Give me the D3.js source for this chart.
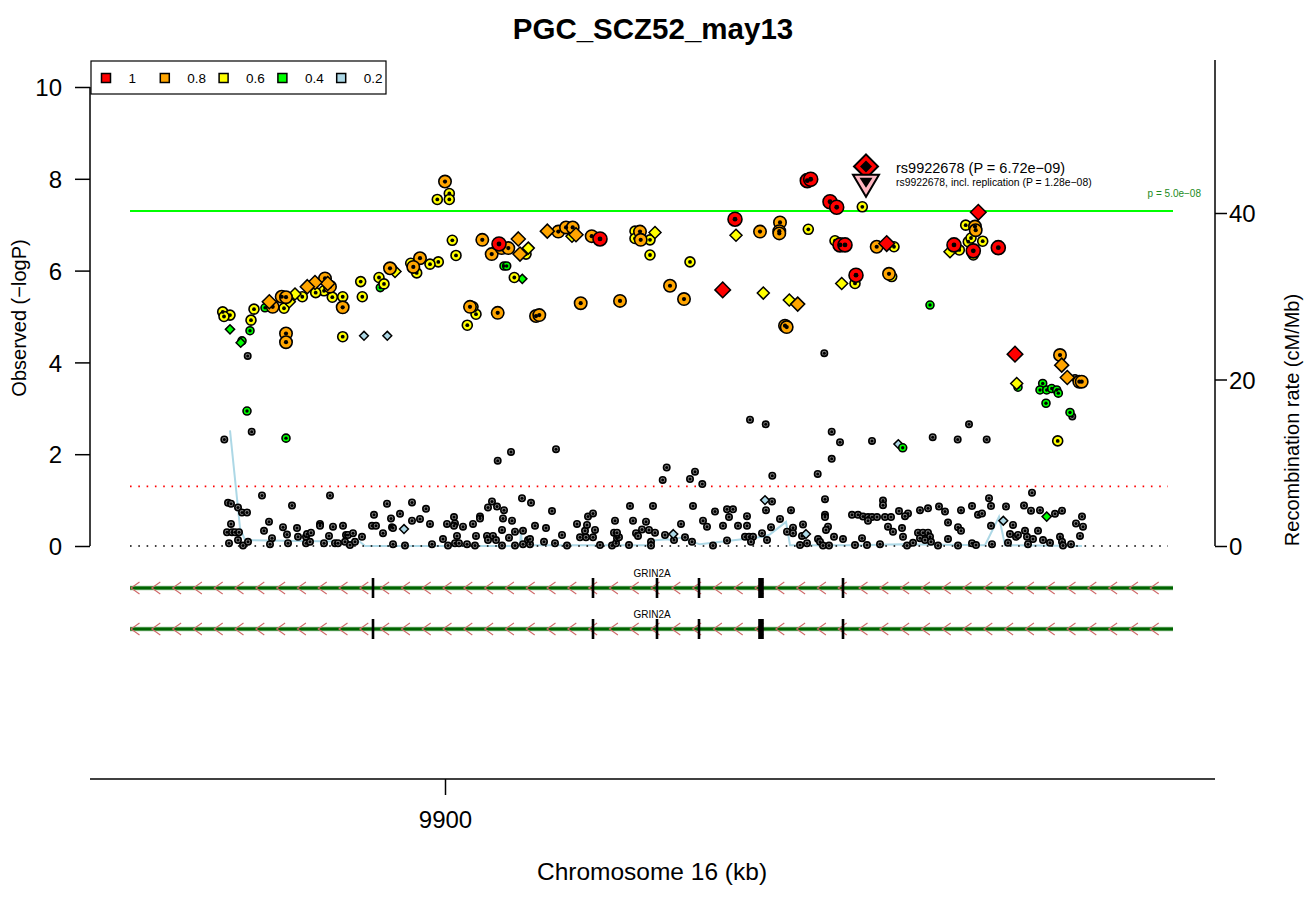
<!DOCTYPE html>
<html><head><meta charset="utf-8">
<script src="https://cdn.jsdelivr.net/npm/d3@7"></script>
<style>body{margin:0;background:#fff}</style>
</head><body>
<svg id="c" width="1304" height="900"></svg>
<script>
// ---------------- DATA ----------------
const title = "PGC_SCZ52_may13";
const xTicks = [9900];
const yTicks = [0, 2, 4, 6, 8, 10];
const recTicks = [0, 20, 40];
const ldLabels = ["1", "0.8", "0.6", "0.4", "0.2"];
const ldColors = ["#FF0000", "#FFA500", "#FFFF00", "#00FF00", "#ADD8E6"];
const sigLine = 7.30;   // p = 5e-08
const nomLine = 1.30;   // p = 0.05

// lead SNP
const leadName = "rs9922678";
const leadPos = 10321;
const leadLogP = 8.27;
const replLogP = 7.87;

// [position kb, -log10 P]  r2 >= 0.8 (red)
const ld1Circ = [[9954,6.58],[10262.3,7.96],[10265.7,7.99],[10285,7.50],[10291.7,7.38],[10190,7.12],[10055,6.69],[10295,6.56],[10300,6.56],[10311,5.90],[10409,6.56],[10428.3,6.43],[10453.3,6.50]];
const ld1Diam = [[10341.7,6.59],[10177.7,5.58],[10433.3,7.27],[10470,4.18]];
// orange
const ld08Circ = [[9900,7.94],[9937.3,6.67],[9946.7,6.36],[9956.7,6.49],[9963.3,6.49],[9875,6.27],[9868.3,6.08],[9845,6.05],[9797.7,5.20],[9780,5.83],[9785,5.65],[9736.7,5.43],[9741,5.42],[9727.7,5.21],[9741,4.63],[9741,4.44],[9925,5.21],[9952.7,5.08],[9991,5.01],[9994.3,5.03],[10235,7.05],[10234.3,6.86],[10234.3,6.81],[10215,6.85],[10013.3,6.85],[10021,6.94],[10027.7,6.94],[10046.7,6.75],[10095,6.85],[10095.7,6.67],[10331.7,6.52],[10125,5.67],[10139,5.38],[10035.7,5.29],[10075,5.34],[10240,4.80],[10241.7,4.77],[10430,6.96],[10430.7,6.88],[10344,5.93],[10515,4.16],[10534.3,3.58],[10536.7,3.58]];
const ld08Diam = [[9973.3,6.69],[9975,6.36],[9782.7,5.72],[9770,5.74],[9762.3,5.65],[9724.3,5.32],[10002.3,6.86],[10031,6.78],[10252.7,5.27],[10516.7,3.94],[10522.3,3.67]];
// yellow
const ld06Circ = [[9892.3,7.55],[9904.3,7.68],[9904.3,7.55],[9907.3,6.66],[9981,6.36],[9969.3,5.85],[9911,6.33],[9893.3,6.19],[9885,6.14],[9865.7,6.16],[9871.7,5.95],[9834,5.85],[9839,5.71],[9815.7,5.76],[9817.3,5.43],[9797.7,5.43],[9787.3,5.42],[9779,5.56],[9770.7,5.52],[9757.3,5.43],[9739,5.18],[9709,5.16],[9706,4.92],[9677.7,5.10],[9685,5.03],[9679,5.00],[9797.7,4.56],[9922.3,4.81],[9931,5.05],[9928,5.21],[10317.3,7.39],[10263.3,6.90],[10090,6.86],[10090,6.70],[10105,6.67],[10105,6.34],[10145,6.19],[10290,6.65],[10310,5.72],[10420.7,6.99],[10437.7,6.64],[10423.3,6.63],[10426,6.71],[10428.3,6.34],[10414.3,6.45],[10349,6.52],[10346.7,5.87],[10512.7,2.29]];
const ld06Diam = [[9983.3,6.49],[9850,5.98],[9750,5.49],[9744.3,5.32],[10191,6.77],[10027,6.75],[10110,6.83],[10218.3,5.51],[10244.3,5.36],[10296.7,5.72],[10405,6.41],[10471.7,3.54]];
// green
const ld04Circ = [[9959,6.10],[9961.7,6.10],[9835.3,5.63],[9720,5.19],[9705,4.69],[9697,4.47],[10385,5.25],[10473,3.46],[10497.7,3.54],[10495,3.40],[10501.7,3.40],[10506.7,3.43],[10511.7,3.40],[10513.3,3.33],[10501,3.11],[10525,2.91],[10357.7,2.14],[9702,2.94],[9741,2.35]];
const ld04Diam = [[9977.3,5.82],[9685,4.72],[9695.7,4.43],[10501.7,0.64]];
// light blue
const ld02Diam = [[9819,4.58],[9842.3,4.58],[10353.3,2.22],[9859,0.37],[10128.3,0.26],[10220,1.00],[10261,0.26],[10458.3,0.55]];
// r2 < 0.2 (grey)
const ld0Circ = [[9702.7,4.14],[10279.3,4.20],[10530,3.66],[10527.3,2.82],[10424,2.65],[10327,2.29],[10387.7,2.37],[10412.7,2.32],[10441.7,2.32],[9706.7,2.49],[9679.3,2.32],[9952.7,1.86],[9966,2.05],[10011,2.11],[10205,2.75],[10220.7,2.65],[10286.7,2.49],[10286.7,1.90],[10295,2.26],[10227.3,1.53],[10272.7,1.57],[10117.7,1.44],[10121.7,1.71],[10145,1.46],[10150,1.62],[10157.3,1.35],
[9683,0.94],[9686,0.92],[9717,1.10],[9785,1.10],[9747,0.88],[9693,0.84],[9697,0.73],[9702,0.73],[9686,0.48],[9682,0.30],[9687,0.30],[9690,0.30],[9694,0.30],[9684,0.06],[9693,0.13],[9698,0.01],[9703,0.09],[9719,0.33],[9724,0.53],[9727,0.17],[9725,0.04],[9738,0.41],[9742,0.25],[9743,0.06],[9752,0.39],[9753,0.20],[9761,0.20],[9762,0.26],[9766,0.29],[9761,0.06],[9765,0.09],[9775,0.48],[9775,0.44],[9779,0.06],[9784,0.22],[9788,0.42],[9790,0.06],[9793,0.06],[9798,0.44],[9801,0.24],[9803,0.24],[9808,0.28],[9800,0.09],[9805,0.02],[9810,0.09],[9817,0.20],[9829,0.68],[9827,0.44],[9831,0.44],[9838,0.28],[9842,0.92],[9846,0.60],[9847,0.41],[9848,0.39],[9855,0.70],[9848,0.04],[9860,0.01],[9867,0.95],[9867,0.55],[9875,0.59],[9881,0.81],[9885,0.48],[9887,0.04],[9898,0.15],[9902,0.48],[9903,0.01],[9909,0.63],[9910,0.49],[9909,0.44],[9912,0.22],[9910,0.06],[9914,0.06],[9922,0.04],[9918,0.42],[9928,0.48],[9931,0.22],[9930,0.01],[9935,0.64],[9935,0.60],[9943,0.84],[9947,0.97],[9952,0.86],[9942,0.22],[9948,0.22],[9943,0.13],[9951,0.13],[9957,0.35],[9958,0.60],[9959,0.78],[9967,0.55],[9964,0.18],[9970,0.31],[9957,0.01],[9970,0.01],[9977,1.04],[9986,0.94],[9978,0.33],[9978,0.04],[9983,0.13],[9985,0.04],[9990,0.44],
[10007,0.76],[10001,0.39],[9985,0.15],[9999,0.09],[10010,0.06],[10017,0.24],[10022,0.01],[10032,0.48],[10035,0.19],[10041,0.19],[10048,0.19],[10040,0.33],[10042,0.46],[10050,0.35],[10043,0.64],[10048,0.71],[10055,0.02],[10067,0.01],[10071,0.06],[10072,0.17],[10074,0.19],[10069,0.29],[10072,0.29],[10070,0.55],[10084,0.02],[10085,0.87],[10088,0.55],[10091,0.28],[10093,0.22],[10097,0.36],[10101,0.53],[10104,0.35],[10106,0.09],[10106,0.01],[10110,0.29],[10108,0.87],[10120,0.24],[10129,0.13],[10136,0.48],[10140,0.19],[10147,0.09],[10148,0.87],[10158,0.55],[10162,0.42],[10168,0.01],[10170,0.75],[10182,0.80],[10188,0.80],[10184,0.63],[10182,0.12],[10178,0.44],[10193,0.44],[10202,0.44],[10202,0.65],[10200,0.20],[10204,0.20],[10208,0.20],[10206,0.09],[10217,0.28],[10222,0.13],[10227,0.97],[10221,0.78],[10226,0.41],[10235,0.59],[10242,0.31],[10248,0.40],[10248,0.28],[10246,0.78],[10255,0.02],[10262,0.06],[10258,0.47],[10257,0.22],[10273,0.15],[10275,0.09],[10278,0.01],[10284,0.01],[10289,0.20],[10298,0.15],[10283,0.42],[10281,0.35],[10280,0.68],[10280,0.63],[10280,1.02],[10307,0.68],[10313,0.68],[10318,0.64],[10323,0.63],[10310,0.02],[10317,0.17],[10322,0.02],
[10327,0.63],[10332,0.63],[10340,0.63],[10346,0.63],[10323,0.55],[10338,0.99],[10338,0.89],[10354,0.76],[10363,0.71],[10360,0.65],[10343,0.42],[10348,0.31],[10357,0.39],[10358,0.20],[10335,0.04],[10362,0.01],[10368,0.07],[10373,0.29],[10378,0.29],[10383,0.29],[10385,0.20],[10375,0.17],[10380,0.13],[10386,0.09],[10393,0.01],[10375,0.78],[10383,0.82],[10394,0.86],[10400,0.75],[10403,0.51],[10403,0.15],[10413,0.41],[10416,0.33],[10413,0.01],[10416,0.78],[10427,0.87],[10427,0.06],[10431,0.02],[10433,0.68],[10437,0.71],[10444,1.04],[10446,0.87],[10446,0.44],[10447,0.04],[10461,0.86],[10463,0.07],[10468,0.46],[10465,0.26],[10471,0.20],[10473,0.24],[10480,0.33],[10482,0.20],[10488,0.15],[10483,0.04],[10498,0.13],[10505,0.07],[10479,0.88],[10486,0.77],[10487,1.16],[10495,0.78],[10493,0.33],[10510,0.70],[10517,0.77],[10515,0.20],[10517,0.09],[10518,0.01],[10526,0.04],[10531,0.49],[10537,0.64],[10538,0.42],[10535,0.22]];

// recombination rate (cM/Mb)
const recPos  = [9685, 9695, 9700, 9755, 9815, 9820, 9975, 9976, 9977, 10105, 10110, 10123, 10127, 10135, 10155, 10218, 10225, 10241, 10245, 10315, 10355, 10440, 10454, 10460, 10537];
const recRate = [13.9, 2.2, 0.7, 0.6, 0.5, 0.0, 0.0, 1.7, 0.1, 0.1, 0.7, 0.8, 0.6, 1.0, 0.2, 1.1, 1.4, 2.9, 0.1, 0.1, 0.2, 0.1, 3.5, 0.1, 0.0];

// gene track (two transcripts of GRIN2A, minus strand)
const geneName = "GRIN2A";
const geneStart = 9585, geneEnd = 10628;
const exonStart = [9827, 10047, 10111, 10153, 10213.5, 10297];
const exonEnd   = [9829, 10049, 10113, 10155, 10218.5, 10299];
const geneRows = [0, 1];

// ---------------- DRAW ----------------
const svg = d3.select("#c");
const FONT = "'Liberation Sans', Arial, Helvetica, sans-serif";
const x = d3.scaleLinear().domain([9545, 10670]).range([90, 1215]);
const y = d3.scaleLinear().domain([0, 10]).range([546, 87]);
const yr = d3.scaleLinear().domain([0, 40]).range([546, 213]);
const dataX0 = x(geneStart), dataX1 = x(geneEnd);

// title
svg.append("text").attr("x", 653).attr("y", 39).attr("text-anchor", "middle")
  .attr("font-family", FONT).attr("font-size", 29.5).attr("font-weight", "bold").text(title);

// recombination line
svg.append("path")
  .datum(recPos.map((p, i) => [p, recRate[i]]))
  .attr("fill", "none").attr("stroke", "#ADD8E6").attr("stroke-width", 2)
  .attr("d", d3.line().x(d => x(d[0])).y(d => yr(d[1])));

// reference lines
svg.append("line").attr("x1", dataX0).attr("x2", 1168).attr("y1", y(nomLine)).attr("y2", y(nomLine))
  .attr("stroke", "#FF0000").attr("stroke-width", 1.6).attr("stroke-dasharray", "1.6,6.7");
svg.append("line").attr("x1", dataX0).attr("x2", 1168).attr("y1", y(0)).attr("y2", y(0))
  .attr("stroke", "#000").attr("stroke-width", 1.6).attr("stroke-dasharray", "1.6,6.7");
svg.append("line").attr("x1", dataX0).attr("x2", dataX1).attr("y1", y(sigLine)).attr("y2", y(sigLine))
  .attr("stroke", "#00FF00").attr("stroke-width", 2);
svg.append("text").attr("x", 1201).attr("y", 197).attr("text-anchor", "end")
  .attr("font-family", FONT).attr("font-size", 10).attr("fill", "#228B22").text("p = 5.0e\u221208");

// points
const pts = svg.append("g");
function circles(data, color, r, dot) {
  const g = pts.append("g");
  g.selectAll("circle.o").data(data).join("circle").attr("class", "o")
    .attr("cx", d => x(d[0])).attr("cy", d => y(d[1])).attr("r", r)
    .attr("fill", color).attr("stroke", "#000").attr("stroke-width", 1.6);
  g.selectAll("circle.i").data(data).join("circle").attr("class", "i")
    .attr("cx", d => x(d[0])).attr("cy", d => y(d[1])).attr("r", dot).attr("fill", "#000");
}
function diamonds(data, color, h) {
  pts.append("g").selectAll("path").data(data).join("path")
    .attr("d", d => { const cx = x(d[0]), cy = y(d[1]);
      return `M${cx},${cy-h}L${cx+h},${cy}L${cx},${cy+h}L${cx-h},${cy}Z`; })
    .attr("fill", color).attr("stroke", "#000").attr("stroke-width", 1.5);
}
circles(ld0Circ, "#808080", 3.2, 1.5);
diamonds(ld02Diam, ldColors[4], 4.4);
circles(ld04Circ, ldColors[3], 4.0, 1.7);
diamonds(ld04Diam, ldColors[3], 4.6);
circles(ld06Circ, ldColors[2], 5.0, 1.9);
diamonds(ld06Diam, ldColors[2], 6.0);
circles(ld08Circ, ldColors[1], 6.2, 2.1);
diamonds(ld08Diam, ldColors[1], 7.0);
circles(ld1Circ, ldColors[0], 7.0, 2.4);
diamonds(ld1Diam, ldColors[0], 7.8);

// lead SNP: diamond + replication triangle
{
  const cx = x(leadPos), cy = y(leadLogP), h = 12;
  svg.append("path").attr("d", `M${cx},${cy-h}L${cx+h},${cy}L${cx},${cy+h}L${cx-h},${cy}Z`)
    .attr("fill", ldColors[0]).attr("stroke", "#000").attr("stroke-width", 2);
  const h2 = 6;
  svg.append("path").attr("d", `M${cx},${cy-h2}L${cx+h2},${cy}L${cx},${cy+h2}L${cx-h2},${cy}Z`).attr("fill", "#000");
  const ty = y(replLogP), w = 13;
  svg.append("path").attr("d", `M${cx-w},${ty-10}L${cx+w},${ty-10}L${cx},${ty+12}Z`)
    .attr("fill", "#FFB6C1").attr("stroke", "#000").attr("stroke-width", 2);
  svg.append("path").attr("d", `M${cx-6.5},${ty-7}L${cx+6.5},${ty-7}L${cx},${ty+3}Z`).attr("fill", "#000");
}
svg.append("text").attr("x", 896).attr("y", 173).attr("font-family", FONT).attr("font-size", 14.5)
  .text(`${leadName} (P = 6.72e\u221209)`);
svg.append("text").attr("x", 896).attr("y", 185.5).attr("font-family", FONT).attr("font-size", 10.4)
  .text(`${leadName}, incl. replication (P = 1.28e\u221208)`);

// axes
const axL = svg.append("g").attr("transform", "translate(90,0)")
  .call(d3.axisLeft(y).tickValues(yTicks).tickSize(15).tickSizeOuter(0).tickPadding(13));
const axR = svg.append("g").attr("transform", "translate(1215,0)")
  .call(d3.axisRight(yr).tickValues(recTicks).tickSize(12).tickSizeOuter(0).tickPadding(2));
const axB = svg.append("g").attr("transform", "translate(0,779)")
  .call(d3.axisBottom(x).tickValues(xTicks).tickFormat(d3.format("d")).tickSize(16).tickSizeOuter(0).tickPadding(16));
[axL, axR, axB].forEach(a => {
  a.select(".domain").remove();
  a.selectAll("line").attr("stroke", "#000").attr("stroke-width", 1.5);
  a.selectAll("text").attr("font-family", FONT).attr("font-size", 24).attr("fill", "#000");
});
axL.selectAll("text").attr("dy", "0.36em");
axR.selectAll("text").attr("dy", "0.36em");
svg.append("line").attr("x1", 90).attr("x2", 90).attr("y1", y(10)).attr("y2", y(0)).attr("stroke", "#000").attr("stroke-width", 1.5);
svg.append("line").attr("x1", 1215).attr("x2", 1215).attr("y1", 60).attr("y2", yr(0)).attr("stroke", "#000").attr("stroke-width", 1.5);
svg.append("line").attr("x1", 90).attr("x2", 1215).attr("y1", 779).attr("y2", 779).attr("stroke", "#000").attr("stroke-width", 1.5);

// axis titles
svg.append("text").attr("transform", "translate(26,318) rotate(-90)").attr("text-anchor", "middle")
  .attr("font-family", FONT).attr("font-size", 20).text("Observed (\u2212logP)");
svg.append("text").attr("transform", "translate(1299,420) rotate(-90)").attr("text-anchor", "middle")
  .attr("font-family", FONT).attr("font-size", 20).text("Recombination rate (cM/Mb)");
svg.append("text").attr("x", 652).attr("y", 880).attr("text-anchor", "middle")
  .attr("font-family", FONT).attr("font-size", 24.5).text("Chromosome 16 (kb)");

// legend
const lg = svg.append("g");
lg.append("rect").attr("x", 91).attr("y", 61).attr("width", 295).attr("height", 33)
  .attr("fill", "#fff").attr("stroke", "#000").attr("stroke-width", 1.2);
ldLabels.forEach((lab, i) => {
  const sx = 106 + i * 58.8;
  lg.append("rect").attr("x", sx - 4.5).attr("y", 73.5).attr("width", 9).attr("height", 9)
    .attr("fill", ldColors[i]).attr("stroke", "#000").attr("stroke-width", 1.5);
  lg.append("text").attr("x", sx + 22.5).attr("y", 83).attr("font-family", FONT).attr("font-size", 13.5).text(lab);
});

// gene track
const rowY = r => 588 + r * 41;
geneRows.forEach(r => {
  const gy = rowY(r);
  const g = svg.append("g");
  g.append("line").attr("x1", x(geneStart)).attr("x2", x(geneEnd)).attr("y1", gy).attr("y2", gy)
    .attr("stroke", "#8FC08F").attr("stroke-width", 4.5);
  g.append("line").attr("x1", x(geneStart)).attr("x2", x(geneEnd)).attr("y1", gy).attr("y2", gy)
    .attr("stroke", "#006400").attr("stroke-width", 2.8);
  g.selectAll("path.chev").data(d3.range(geneStart + 1, geneEnd - 8, 20.8)).join("path").attr("class", "chev")
    .attr("d", d => `M${x(d)+8.5},${gy-6}L${x(d)},${gy}L${x(d)+8.5},${gy+6}`)
    .attr("fill", "none").attr("stroke", "#D06A6A").attr("stroke-width", 1.1);
  g.selectAll("rect.ex").data(exonStart).join("rect").attr("class", "ex")
    .attr("x", (d, i) => x(d) - 0.3).attr("width", (d, i) => x(exonEnd[i]) - x(d) + 0.6)
    .attr("y", gy - 10).attr("height", 20).attr("fill", "#000");
  g.append("text").attr("x", 652).attr("y", gy - 11).attr("text-anchor", "middle")
    .attr("font-family", FONT).attr("font-size", 10).text(geneName);
});
</script>
</body></html>
